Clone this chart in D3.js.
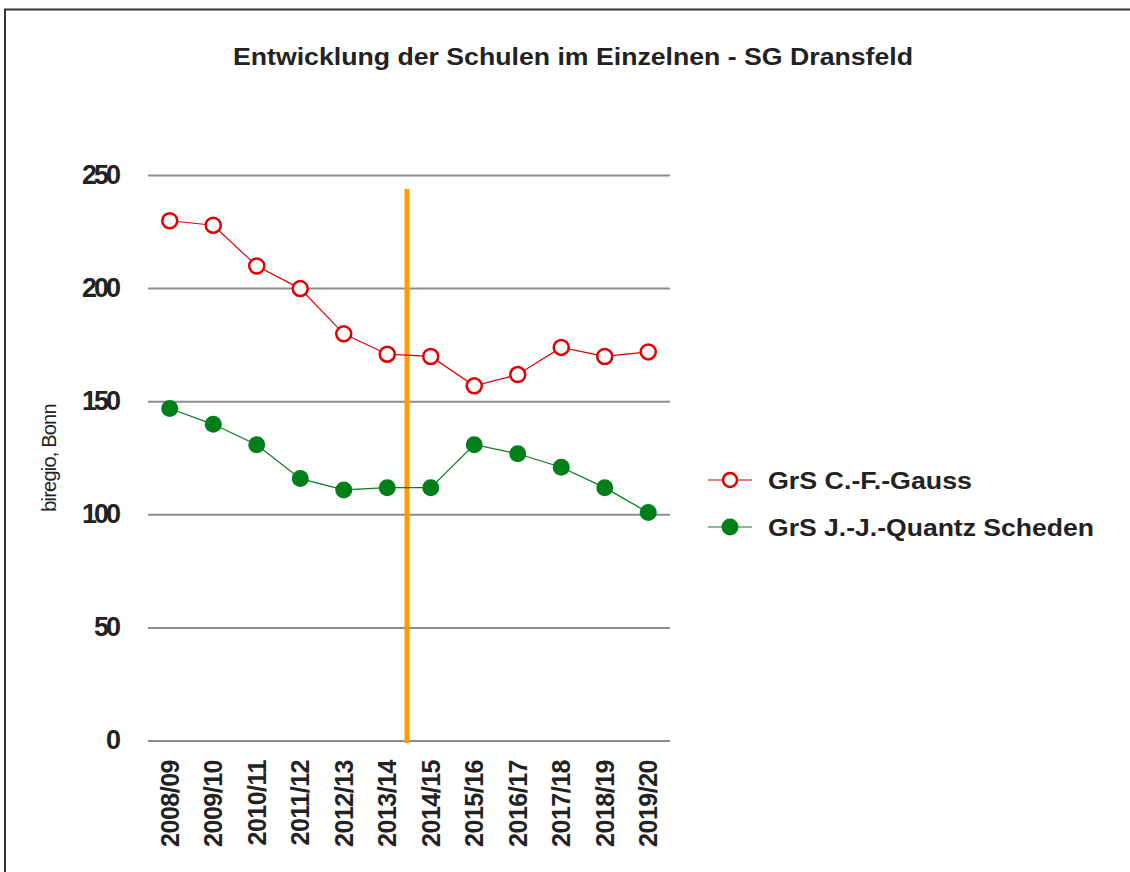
<!DOCTYPE html>
<meta charset="utf-8">
<title>Entwicklung der Schulen im Einzelnen - SG Dransfeld</title>
<style>
  body { margin: 0; background: #fff; }
  svg { display: block; font-family: "Liberation Sans", Arial, sans-serif; }
</style>
<body>
  <div id="container"></div>
  <script src="https://unpkg.com/d3@7/dist/d3.min.js"></script>
  <script>
    const width = 1130;
    const height = 872;

    // data
    const years = ['2008/09', '2009/10', '2010/11', '2011/12', '2012/13', '2013/14',
                   '2014/15', '2015/16', '2016/17', '2017/18', '2018/19', '2019/20'];
    const gauss = [230, 228, 210, 200, 180, 171, 170, 157, 162, 174, 170, 172];
    const quantz = [147, 140, 131, 116, 111, 112, 112, 131, 127, 121, 112, 101];
    const yTicks = [0, 50, 100, 150, 200, 250];
    const seriesNames = ['GrS C.-F.-Gauss', 'GrS J.-J.-Quantz Scheden'];
    const markerValue = 244; // top of the orange line

    const svg = d3.select('#container')
      .append('svg')
      .attr('width', width)
      .attr('height', height);

    // frame
    svg.append('rect')
      .attr('x', 5).attr('y', 9.5)
      .attr('width', width + 10).attr('height', height + 10)
      .attr('fill', 'none')
      .attr('stroke', '#333')
      .attr('stroke-width', 2);

    svg.append('text')
      .attr('x', 233).attr('y', 65)
      .attr('font-size', 23.5)
      .attr('font-weight', 'bold')
      .attr('textLength', 680)
      .attr('lengthAdjust', 'spacingAndGlyphs')
      .attr('fill', '#222')
      .text('Entwicklung der Schulen im Einzelnen - SG Dransfeld');

    const x = d3.scaleBand().domain(years).range([148, 670]);
    const y = d3.scaleLinear().domain([0, 250]).range([741, 175.5]);

    // grid
    svg.append('g')
      .selectAll('line')
      .data(yTicks)
      .join('line')
      .attr('x1', 148).attr('x2', 670)
      .attr('y1', d => y(d)).attr('y2', d => y(d))
      .attr('stroke', '#8c8c8c')
      .attr('stroke-width', 2);

    // y axis labels
    svg.append('g')
      .selectAll('text')
      .data(yTicks)
      .join('text')
      .attr('x', 118).attr('y', d => y(d) + 8)
      .attr('text-anchor', 'end')
      .attr('font-size', 27)
      .attr('font-weight', 'bold')
      .attr('letter-spacing', -3)
      .attr('fill', '#222')
      .text(d => d);

    svg.append('text')
      .attr('transform', 'translate(56,458) rotate(-90)')
      .attr('text-anchor', 'middle')
      .attr('font-size', 20)
      .attr('letter-spacing', -0.8)
      .attr('fill', '#222')
      .text('biregio, Bonn');

    // x axis labels
    svg.append('g')
      .selectAll('text')
      .data(years)
      .join('text')
      .attr('transform', d => `translate(${x(d) + x.bandwidth() / 2 + 9},760) rotate(-90)`)
      .attr('text-anchor', 'end')
      .attr('font-size', 25)
      .attr('font-weight', 'bold')
      .attr('letter-spacing', -0.5)
      .attr('fill', '#222')
      .text(d => d);

    // orange marker line between 2013/14 and 2014/15
    const xm = x('2014/15') - 2;
    svg.append('line')
      .attr('x1', xm).attr('x2', xm)
      .attr('y1', y(markerValue)).attr('y2', y(0) + 2)
      .attr('stroke', '#ff9c00')
      .attr('stroke-width', 5);

    const cx = d => x(d) + x.bandwidth() / 2;
    const line = d3.line().x((d, i) => cx(years[i])).y(d => y(d));

    const series = [
      { name: seriesNames[0], values: gauss, color: '#e00000', fill: '#fff', len: 204 },
      { name: seriesNames[1], values: quantz, color: '#007f1b', fill: '#007f1b', len: 326 }
    ];

    series.forEach(s => {
      svg.append('path')
        .datum(s.values)
        .attr('d', line)
        .attr('fill', 'none')
        .attr('stroke', s.color)
        .attr('stroke-width', 1.2);

      svg.append('g')
        .selectAll('circle')
        .data(s.values)
        .join('circle')
        .attr('cx', (d, i) => cx(years[i]))
        .attr('cy', d => y(d))
        .attr('r', s.fill === '#fff' ? 7.5 : 8.5)
        .attr('fill', s.fill)
        .attr('stroke', s.color)
        .attr('stroke-width', s.fill === '#fff' ? 2.5 : 0);
    });

    // legend
    const legend = svg.append('g')
      .selectAll('g')
      .data(series)
      .join('g')
      .attr('transform', (d, i) => `translate(708,${480 + i * 47})`);

    legend.append('line')
      .attr('x1', 0).attr('x2', 44)
      .attr('stroke', d => d.color)
      .attr('stroke-width', 1.2);

    legend.append('circle')
      .attr('cx', 22)
      .attr('r', d => d.fill === '#fff' ? 7 : 8.5)
      .attr('fill', d => d.fill)
      .attr('stroke', d => d.color)
      .attr('stroke-width', d => d.fill === '#fff' ? 2.5 : 0);

    legend.append('text')
      .attr('x', 60).attr('y', 8.5)
      .attr('font-size', 23.5)
      .attr('font-weight', 'bold')
      .attr('textLength', d => d.len)
      .attr('lengthAdjust', 'spacingAndGlyphs')
      .attr('fill', '#222')
      .text(d => d.name);
  </script>
</body>
